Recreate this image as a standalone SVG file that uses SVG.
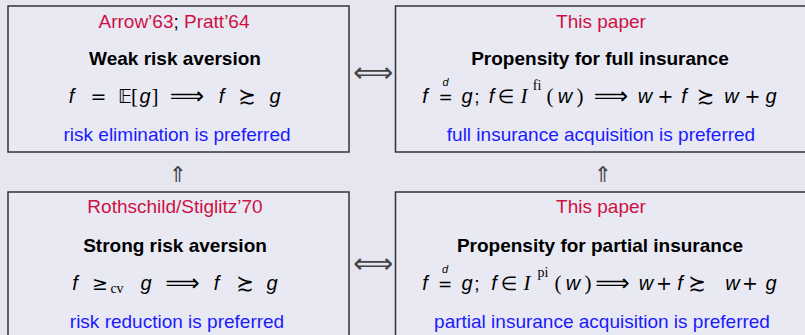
<svg xmlns="http://www.w3.org/2000/svg" width="805" height="335" viewBox="0 0 805 335">
<style>
.box{fill:#e9e9f3;stroke:#333;stroke-width:1.5}
text{font-family:"Liberation Sans","DejaVu Sans",sans-serif;font-size:19px;fill:#000}
.c{text-anchor:middle}
.ttl{fill:#cc1144}
.hd{font-weight:bold}
.bl{fill:#1a1aff}
.mi{font-style:italic;text-anchor:middle;font-size:20px}
.sy{font-family:"DejaVu Sans",sans-serif;text-anchor:middle;font-size:19px}
.im{font-family:"DejaVu Sans",sans-serif;text-anchor:middle;font-size:24px}
.pr{font-family:"DejaVu Sans",sans-serif;text-anchor:middle;font-size:21px}
.cal{font-family:"Liberation Serif","DejaVu Serif",serif;font-style:italic;text-anchor:middle;font-size:21px}
.rm{font-family:"Liberation Serif","DejaVu Serif",serif;text-anchor:middle;font-size:21px}
.sm{font-family:"Liberation Serif","DejaVu Serif",serif;font-size:14px;text-anchor:middle}
.sd{font-style:italic;font-size:11px;text-anchor:middle}
.eq{font-family:"DejaVu Sans",sans-serif;text-anchor:middle;font-size:17px}
.lr{font-family:"DejaVu Sans",sans-serif;text-anchor:middle;fill:#444;font-size:28px}
.up{font-family:"DejaVu Sans",sans-serif;text-anchor:middle;fill:#444;font-size:22px}
</style>
<rect width="805" height="335" fill="#e6e6f0"/>

<g id="weak">
<rect class="box" x="8" y="6" width="341" height="146"/>
<text class="c ttl" x="174" y="28">Arrow’63<tspan fill="#000">;</tspan> Pratt’64</text>
<text class="c hd" x="175" y="65">Weak risk aversion</text>
<text class="mi" x="71.5" y="103">f</text>
<text class="sy" x="98.5" y="103">=</text>
<text class="sy" x="125" y="103">𝔼</text>
<text class="rm" x="134.5" y="103">[</text>
<text class="mi" x="145" y="103">g</text>
<text class="rm" x="155" y="103">]</text>
<text class="im" x="187" y="104">⟹</text>
<text class="mi" x="221.5" y="103">f</text>
<text class="pr" x="247" y="103">≿</text>
<text class="mi" x="275" y="103">g</text>
<text class="c bl" x="177" y="141">risk elimination is preferred</text>
</g>

<g id="full">
<rect class="box" x="395.5" y="6" width="420" height="146"/>
<text class="c ttl" x="601" y="28">This paper</text>
<text class="c hd" x="600" y="65">Propensity for full insurance</text>
<text class="mi" x="425" y="103">f</text>
<text class="sd" x="445.5" y="86">d</text>
<text class="eq" x="445.5" y="103">=</text>
<text class="mi" x="467" y="103">g</text>
<text class="c" x="477" y="103">;</text>
<text class="mi" x="491.5" y="103">f</text>
<text class="sy" x="506" y="103">∈</text>
<text class="cal" x="524" y="103">I</text>
<text class="sm" x="537" y="90">fi</text>
<text class="rm" x="550" y="103">(</text>
<text class="mi" x="565" y="103">w</text>
<text class="rm" x="580" y="103">)</text>
<text class="im" x="611" y="104">⟹</text>
<text class="mi" x="645" y="103">w</text>
<text class="sy" x="665.5" y="103">+</text>
<text class="mi" x="684" y="103">f</text>
<text class="pr" x="705.5" y="103">≿</text>
<text class="mi" x="731.5" y="103">w</text>
<text class="sy" x="752.5" y="103">+</text>
<text class="mi" x="771" y="103">g</text>
<text class="c bl" x="601" y="141">full insurance acquisition is preferred</text>
</g>

<g id="strong">
<rect class="box" x="8" y="192" width="341" height="160"/>
<text class="c ttl" x="175" y="213">Rothschild/Stiglitz’70</text>
<text class="c hd" x="175" y="252">Strong risk aversion</text>
<text class="mi" x="75" y="290">f</text>
<text class="sy" x="100" y="290">≥</text>
<text class="sm" x="117" y="293">cv</text>
<text class="mi" x="146" y="290">g</text>
<text class="im" x="182.5" y="291">⟹</text>
<text class="mi" x="216.5" y="290">f</text>
<text class="pr" x="245" y="290">≿</text>
<text class="mi" x="272" y="290">g</text>
<text class="c bl" x="177" y="328">risk reduction is preferred</text>
</g>

<g id="partial">
<rect class="box" x="395.5" y="192" width="420" height="160"/>
<text class="c ttl" x="601" y="213">This paper</text>
<text class="c hd" x="600" y="252">Propensity for partial insurance</text>
<text class="mi" x="425" y="290">f</text>
<text class="sd" x="445" y="273">d</text>
<text class="eq" x="445" y="290">=</text>
<text class="mi" x="467" y="290">g</text>
<text class="c" x="477" y="290">;</text>
<text class="mi" x="494" y="290">f</text>
<text class="sy" x="509" y="290">∈</text>
<text class="cal" x="527" y="290">I</text>
<text class="sm" x="543" y="277">pi</text>
<text class="rm" x="558" y="290">(</text>
<text class="mi" x="573" y="290">w</text>
<text class="rm" x="588" y="290">)</text>
<text class="im" x="612.5" y="291">⟹</text>
<text class="mi" x="646" y="290">w</text>
<text class="sy" x="664" y="290">+</text>
<text class="mi" x="680" y="290">f</text>
<text class="pr" x="697" y="290">≿</text>
<text class="mi" x="732.5" y="290">w</text>
<text class="sy" x="750" y="290">+</text>
<text class="mi" x="771" y="290">g</text>
<text class="c bl" x="602" y="328">partial insurance acquisition is preferred</text>
</g>

<g id="connectors">
<text class="lr" x="373" y="82">⟺</text>
<text class="lr" x="373" y="273">⟺</text>
<text class="up" x="178" y="182">⇑</text>
<text class="up" x="603" y="182">⇑</text>
</g>
</svg>
